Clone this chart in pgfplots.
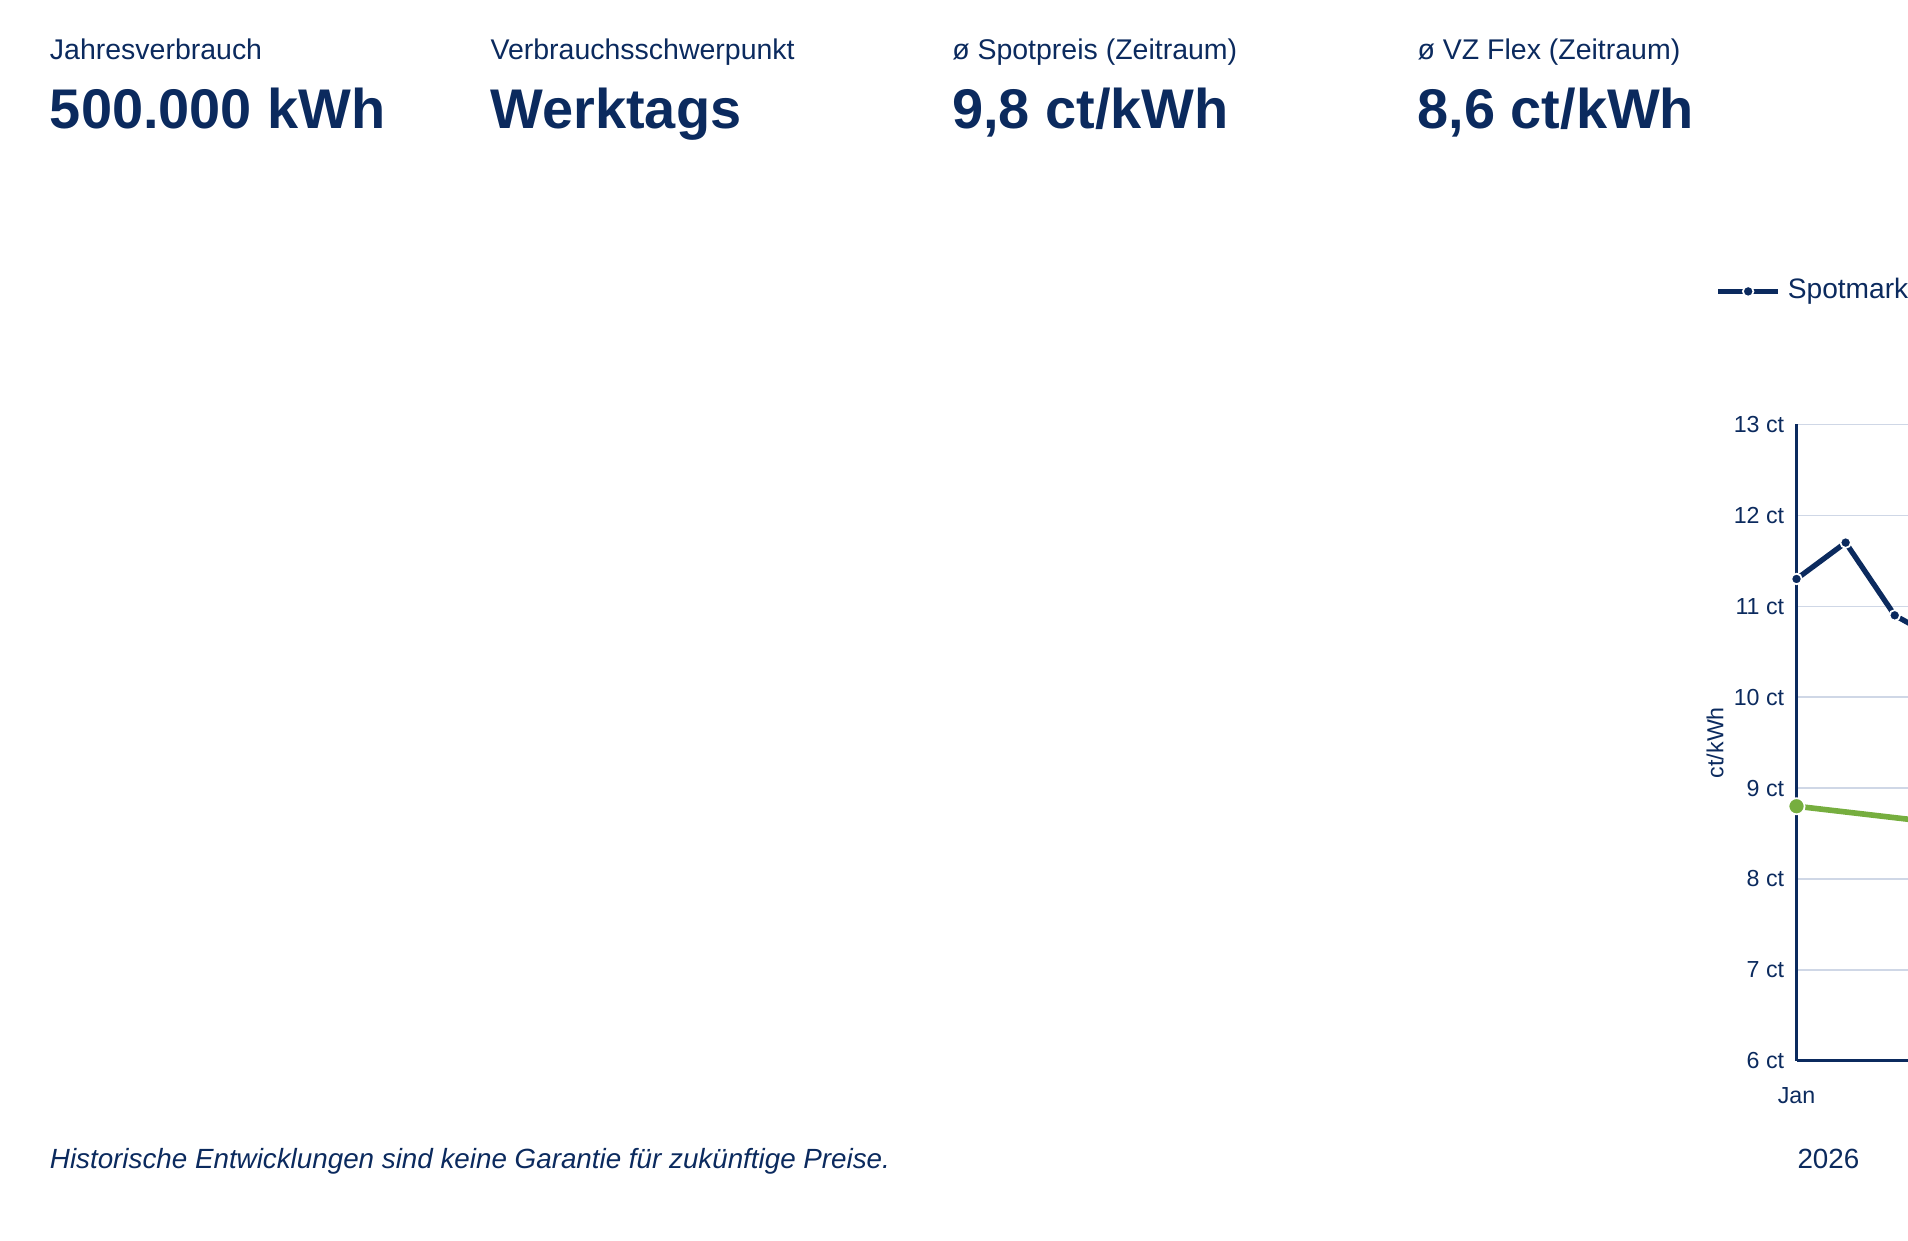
\documentclass[border=0pt]{standalone}
\usepackage{pgfplots}
\pgfplotsset{compat=1.18}
\usepackage{fontspec}
\setmainfont{Liberation Sans}
\definecolor{navy}{HTML}{0B2A5E}
\definecolor{vzg}{HTML}{76AE3F}
\definecolor{gridc}{HTML}{CFD7E6}
\begin{document}
\begin{tikzpicture}[x=0.35pt,y=0.35pt]
\path[use as bounding box] (0,0) rectangle (1550,1008);
\begin{axis}[at={(115,198)},anchor=south west,scale only axis,
 width=488.6pt,height=180.95pt,
 xmin=0,xmax=11,ymin=6,ymax=13,
 axis lines*=left, axis line style={navy,line width=0.8pt},
 xtick={0,...,11},xticklabels={Jan,Feb,Mär,Apr,Mai,Jun,Jul,Aug,Sep,Okt,Nov,Dez},
 ytick={6,...,13}, yticklabel={\pgfmathprintnumber{\tick} ct},
 /pgf/number format/assume math mode=true,
 ymajorgrids, grid style={gridc,line width=0.4pt},
 tick style={draw=none},
 ticklabel style={font=\fontsize{6.6}{8}\selectfont,text=navy},
 xticklabel style={yshift=-4pt},
 ylabel={ct/kWh}, ylabel style={font=\fontsize{6.6}{8}\selectfont,text=navy},
 ylabel shift=-4pt,
 clip=false,
 legend style={at={(-0.0537,1.209)},anchor=west,draw=none,fill=none,
   font=\fontsize{8}{10}\selectfont,text=navy,legend columns=2,
   /tikz/every even column/.append style={column sep=25pt}},
]
\addplot[navy,line width=1.5pt,mark=*,mark size=1.5pt,mark options={fill=navy,draw=white,line width=0.5pt}]
 table[x expr=\coordindex*11/35,y index=0]{
y
11.3
11.7
10.9
10.6
10.9
10.2
9.8
10.1
9.4
8.9
9.3
8.4
8.0
8.5
7.5
7.9
7.2
7.7
8.5
7.9
8.8
9.3
8.8
9.6
10.0
9.4
10.2
10.6
10.1
11.0
11.4
10.9
11.7
11.2
12.0
11.6
};
\addlegendentry{Spotmarkt}
\addplot[vzg,line width=1.6pt,mark=*,mark size=2.3pt,mark options={fill=vzg,draw=white,line width=0.5pt}]
 coordinates {(0,8.8)(1,8.6)(2,8.6)(3,8.7)(4,8.9)(5,8.6)(6,8.4)(7,8.4)(8,8.8)(9,8.6)(10,8.7)(11,8.6)};
\addlegendentry{VZ FLEX}
\end{axis}
\begin{scope}[every node/.style={anchor=base west,text=navy,inner sep=0pt}]
\foreach \xx/\a/\b in {40/Jahresverbrauch/500.000 kWh,398/Verbrauchsschwerpunkt/Werktags,773/ø Spotpreis (Zeitraum)/{9,8 ct/kWh},1151/ø VZ Flex (Zeitraum)/{8,6 ct/kWh}}{
 \node[font=\fontsize{8.1}{10}\selectfont] at (\xx,960) {\a};
 \node[font=\bfseries\fontsize{15.9}{20}\selectfont] at (\xx,904) {\b};
}
\node[font=\itshape\fontsize{7.9}{10}\selectfont] at (40,59) {Historische Entwicklungen sind keine Garantie für zukünftige Preise.};
\node[font=\fontsize{7.9}{10}\selectfont,anchor=base east] at (1511,59) {2026};
\end{scope}
\end{tikzpicture}
\end{document}
